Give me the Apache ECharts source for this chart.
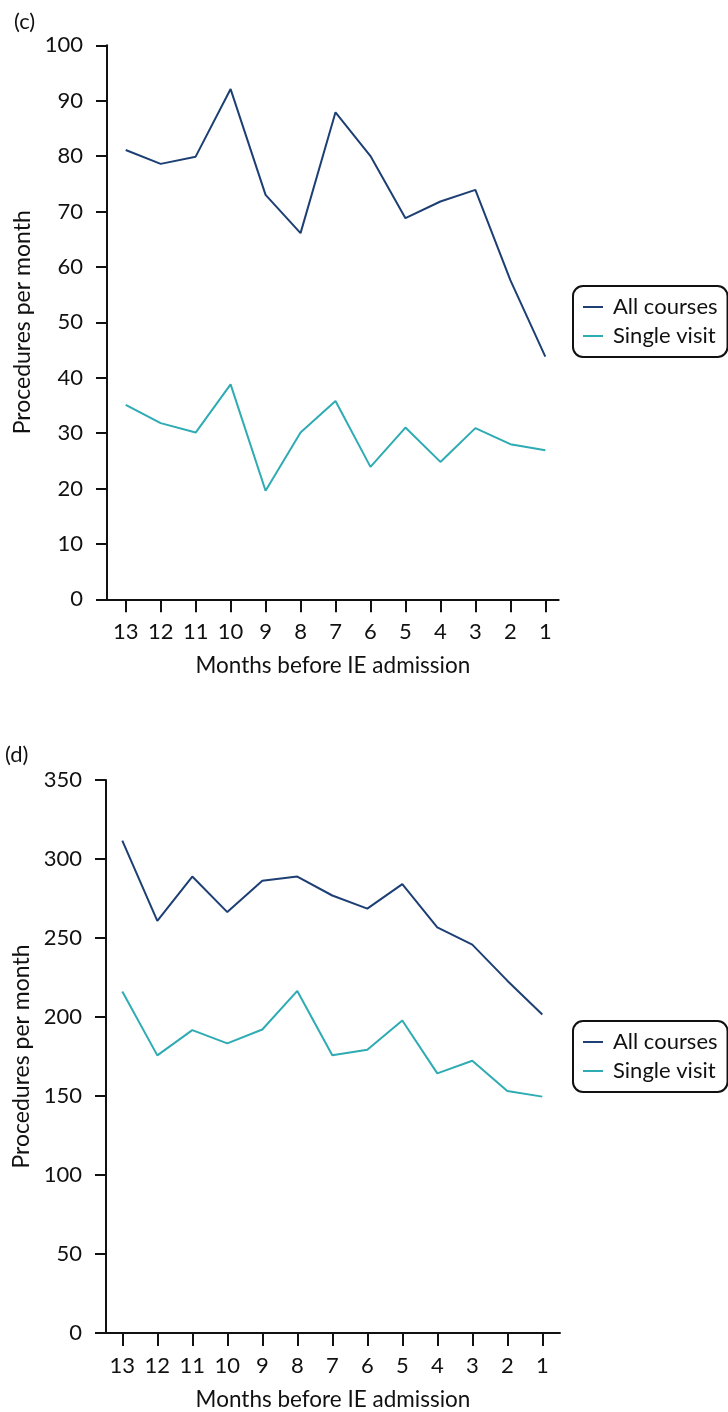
<!DOCTYPE html>
<html>
<head>
<meta charset="utf-8">
<script src="https://cdn.jsdelivr.net/npm/echarts@6/dist/echarts.min.js"></script>
<style>
html,body{margin:0;padding:0;background:#fff;}
#chart{width:728px;height:1412px;}
</style>
</head>
<body>
<div id="chart"></div>
<script>
// Data
const months = [13, 12, 11, 10, 9, 8, 7, 6, 5, 4, 3, 2, 1];
const seriesNames = ['All courses', 'Single visit'];
const cAllCourses = [81.1, 78.6, 79.9, 92.1, 73.0, 66.1, 87.9, 80.0, 68.8, 71.8, 73.9, 57.6, 43.8];
const cSingleVisit = [35.1, 31.8, 30.1, 38.8, 19.6, 30.1, 35.8, 23.9, 31.0, 24.8, 30.9, 28.0, 26.9];
const dAllCourses = [311.6, 260.9, 288.9, 266.4, 286.2, 288.9, 276.9, 268.6, 284.1, 256.7, 245.8, 223.0, 201.6];
const dSingleVisit = [216.1, 175.7, 191.7, 183.3, 192.1, 216.5, 175.8, 179.3, 197.8, 164.3, 172.3, 153.2, 149.6];
const panelLabels = ['(c)', '(d)'];
const xTitle = 'Months before IE admission';
const yTitle = 'Procedures per month';

const FONT = 'Lato, "Open Sans", sans-serif';
const NAVY = '#1d3f74';
const TEAL = '#2eabb3';

function pairs(vals) { return months.map((m, i) => [m, vals[i]]); }

const chart = echarts.init(document.getElementById('chart'), null, {renderer: 'canvas'});

function xAxisCfg(gridIndex, min, max) {
  return {
    gridIndex, type: 'value', inverse: true, min, max,
    name: xTitle, nameLocation: 'middle', nameGap: 55,
    nameTextStyle: {fontFamily: FONT, fontSize: 22.5, color: '#111'},
    axisLine: {show: true, onZero: false, lineStyle: {color: '#111', width: 2}},
    axisTick: {show: true, length: 13, lineStyle: {color: '#111', width: 2}, customValues: months},
    axisLabel: {fontFamily: FONT, fontSize: 22, color: '#111', margin: 22, customValues: months},
    splitLine: {show: false}
  };
}
function yAxisCfg(gridIndex, max, interval) {
  return {
    gridIndex, type: 'value', min: 0, max, interval,
    name: yTitle, nameLocation: 'middle', nameGap: 64,
    nameTextStyle: {fontFamily: FONT, fontSize: 23, color: '#111'},
    axisLine: {show: true, lineStyle: {color: '#111', width: 2}},
    axisTick: {show: true, length: 11, lineStyle: {color: '#111', width: 2}},
    axisLabel: {fontFamily: FONT, fontSize: 22, color: '#111', margin: 24},
    splitLine: {show: false}
  };
}
function lineSeries(name, data, color, idx) {
  return {
    name, type: 'line', xAxisIndex: idx, yAxisIndex: idx,
    data: pairs(data), symbol: 'none', showSymbol: false,
    lineStyle: {color, width: 2}, itemStyle: {color}, animation: false
  };
}
function legendCfg(top) {
  return {
    orient: 'vertical', left: 573, top,
    data: seriesNames, icon: 'rect', itemWidth: 20, itemHeight: 2, itemGap: 7,
    padding: [10, 10, 10, 10],
    borderColor: '#111', borderWidth: 2, borderRadius: 10,
    textStyle: {fontFamily: FONT, fontSize: 22, color: '#111', padding: [0, 0, 0, 5]},
    selectedMode: false
  };
}

chart.setOption({
  animation: false,
  backgroundColor: '#fff',
  graphic: [
    {type: 'text', left: 14, top: 11, style: {text: panelLabels[0], fontFamily: FONT, fontSize: 22, fill: '#111'}},
    {type: 'text', left: 5, top: 744, style: {text: panelLabels[1], fontFamily: FONT, fontSize: 22, fill: '#111'}}
  ],
  grid: [
    {left: 107, top: 45.3, width: 451.7, height: 554},
    {left: 106, top: 780, width: 454, height: 554.3}
  ],
  xAxis: [xAxisCfg(0, 0.617, 13.535), xAxisCfg(1, 0.494, 13.466)],
  yAxis: [yAxisCfg(0, 100, 10), yAxisCfg(1, 350, 50)],
  legend: [legendCfg(286), legendCfg(1021)],
  series: [
    lineSeries(seriesNames[0], cAllCourses, NAVY, 0),
    lineSeries(seriesNames[1], cSingleVisit, TEAL, 0),
    lineSeries(seriesNames[0], dAllCourses, NAVY, 1),
    lineSeries(seriesNames[1], dSingleVisit, TEAL, 1)
  ]
});
</script>
</body>
</html>
